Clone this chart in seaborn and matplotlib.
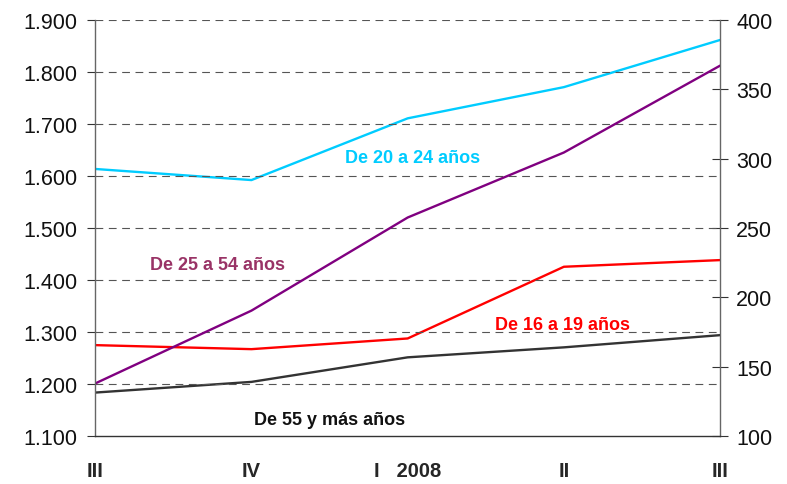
import matplotlib
matplotlib.use("Agg")
import matplotlib.pyplot as plt
import matplotlib.ticker as ticker
import seaborn as sns
import pandas as pd

# Datos (miles de personas) por trimestre
trimestres = ["III", "IV", "I   2008", "II", "III"]
de_25_a_54 = [1201, 1341, 1520, 1645, 1812]      # eje izquierdo
de_20_a_24 = [292.5, 284.5, 329, 351.5, 385.5]   # eje derecho
de_16_a_19 = [165.5, 162.6, 170.3, 222, 226.8]   # eje derecho
de_55_mas = [131.3, 139, 156.7, 163.9, 172.7]    # eje derecho

sns.set_style("white")
plt.rcParams["font.family"] = ["Liberation Sans", "DejaVu Sans"]

pos = list(range(len(trimestres)))
df_izq = pd.DataFrame({"pos": pos, "valor": de_25_a_54})
df_der = pd.DataFrame({"pos": pos * 3,
                       "valor": de_20_a_24 + de_16_a_19 + de_55_mas,
                       "grupo": ["20-24"] * 5 + ["16-19"] * 5 + ["55+"] * 5})

fig, ax = plt.subplots(figsize=(7.87, 4.85), dpi=100)
fig.subplots_adjust(left=0.121, right=0.915, top=0.957, bottom=0.099)
ax2 = ax.twinx()

sns.lineplot(data=df_izq, x="pos", y="valor", ax=ax, color="#800080", linewidth=1.7)
sns.lineplot(data=df_der, x="pos", y="valor", hue="grupo", ax=ax2, linewidth=1.7,
             palette={"20-24": "#00CCFF", "16-19": "#FF0000", "55+": "#333333"},
             legend=False)

ax.set_xlim(0, 4)
ax.set_ylim(1100, 1900)
ax2.set_ylim(100, 400)
ax.set_yticks(range(1100, 1901, 100))
ax2.set_yticks(range(100, 401, 50))
ax.yaxis.set_major_formatter(ticker.FuncFormatter(lambda v, p: f"{v:,.0f}".replace(",", ".")))
ax.set_xticks(pos)
ax.set_xticklabels(trimestres, fontweight="bold", fontsize=14.5)
ax.set_xlabel("")
ax.set_ylabel("")
ax2.set_ylabel("")

# rejilla discontinua
for y in range(1200, 1901, 100):
    ax.axhline(y, color="#555555", linewidth=0.8, linestyle=(0, (7, 5)), zorder=0)

for s in ["top"]:
    ax.spines[s].set_visible(False)
    ax2.spines[s].set_visible(False)
ax2.spines["left"].set_visible(False)
ax2.spines["bottom"].set_visible(False)
ax.spines["right"].set_visible(False)
ax.spines["left"].set_color("#666666")
ax2.spines["right"].set_color("#666666")
ax.spines["bottom"].set_color("#333333")
for sp in [ax.spines["left"], ax.spines["bottom"], ax2.spines["right"]]:
    sp.set_linewidth(1.0)

ax.tick_params(axis="y", direction="out", length=6, width=0.8, color="#333333",
               labelsize=15.5, pad=7, labelcolor="#111111")
ax.tick_params(axis="x", direction="out", length=5, width=0.8, color="#333333", pad=13)
ax2.tick_params(axis="y", direction="inout", length=11, width=0.8, color="#333333",
                labelsize=15.5, pad=6, labelcolor="#111111")

ax.set_zorder(ax2.get_zorder() + 1)
ax.patch.set_visible(False)

etiqueta = dict(fontsize=13, fontweight="bold", ha="center", va="center")
ax.text(2.03, 1636, "De 20 a 24 años", color="#00CCFF", **etiqueta)
ax.text(0.78, 1430, "De 25 a 54 años", color="#993366", **etiqueta)
ax.text(2.99, 1315, "De 16 a 19 años", color="#FF0000", **etiqueta)
ax.text(1.50, 1132, "De 55 y más años", color="#111111", **etiqueta)

fig.savefig("out.png", dpi=100)
